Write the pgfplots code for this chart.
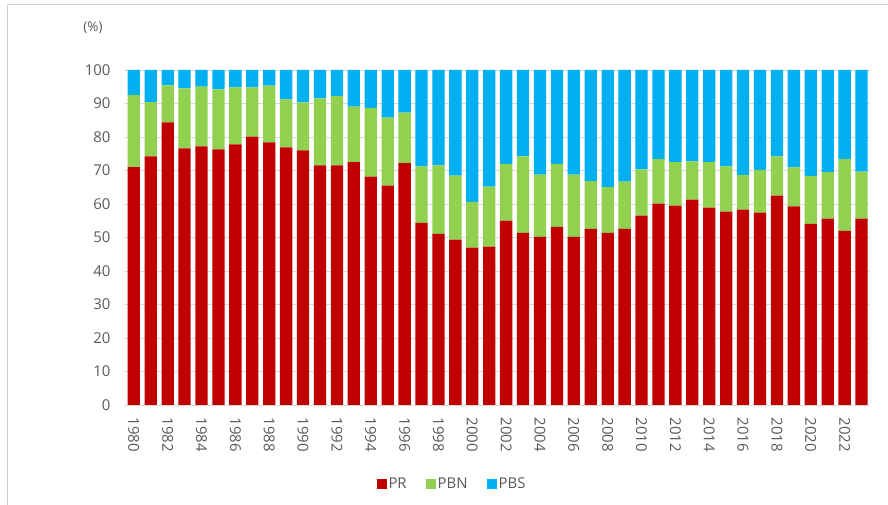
\documentclass[border=0pt]{standalone}
\usepackage{pgfplots}
\pgfplotsset{compat=1.18}
\usepackage{pgfplotstable}
\usepackage{fontspec}
\setmainfont{Open Sans}
\definecolor{cPR}{HTML}{C00000}
\definecolor{cPBN}{HTML}{92D050}
\definecolor{cPBS}{HTML}{00B0F0}
\definecolor{txt}{HTML}{595959}
\definecolor{gridc}{HTML}{D9D9D9}
\definecolor{framec}{HTML}{D0D0D0}
\pgfplotstableread{
year PR PBN PBS
1980 71.0 21.5 7.5
1981 74.2 16.2 9.6
1982 84.4 11.0 4.6
1983 76.6 17.9 5.5
1984 77.2 17.8 5.0
1985 76.3 17.9 5.8
1986 77.8 17.0 5.2
1987 80.1 14.7 5.2
1988 78.4 16.9 4.7
1989 76.9 14.3 8.8
1990 76.0 14.3 9.7
1991 71.5 20.0 8.5
1992 71.5 20.7 7.8
1993 72.5 16.6 10.9
1994 68.2 20.5 11.3
1995 65.5 20.3 14.2
1996 72.2 15.1 12.7
1997 54.4 16.8 28.8
1998 51.1 20.4 28.5
1999 49.4 19.1 31.5
2000 47.0 13.6 39.4
2001 47.3 17.9 34.8
2002 55.0 17.0 28.0
2003 51.4 22.8 25.8
2004 50.2 18.6 31.2
2005 53.2 18.8 28.0
2006 50.2 18.6 31.2
2007 52.6 14.2 33.2
2008 51.4 13.6 35.0
2009 52.6 14.1 33.3
2010 56.5 13.8 29.7
2011 60.1 13.3 26.6
2012 59.5 13.0 27.5
2013 61.3 11.4 27.3
2014 58.9 13.6 27.5
2015 57.7 13.5 28.8
2016 58.3 10.4 31.3
2017 57.4 12.8 29.8
2018 62.5 11.7 25.8
2019 59.3 11.6 29.1
2020 54.1 14.3 31.6
2021 55.6 13.9 30.5
2022 52.0 21.4 26.6
2023 55.6 14.1 30.3
}\datatable
\begin{document}
\begin{tikzpicture}
\path[use as bounding box] (0,0) rectangle (888bp,505bp);
\draw[framec, line width=0.8pt] (7bp,0bp) -- (7bp,501bp) -- (888bp,501bp);
\node[text=txt, font=\fontsize{13.5}{15}\selectfont] at (93bp,477bp) {(\%)};
\begin{axis}[
  at={(124bp,100bp)}, anchor=south west,
  scale only axis, width=746bp, height=335bp,
  ybar stacked, bar width=12.3bp,
  xmin=1979.42, xmax=2023.5,
  ymin=0, ymax=100,
  ytick={0,10,...,100},
  xtick={1980,1982,...,2022},
  xticklabel={\pgfmathprintnumber[1000 sep={}]{\tick}},
  xticklabel shift=9bp,
  xticklabel style={rotate=-90, anchor=west, text=txt, font=\fontsize{15}{16}\selectfont},
  yticklabel style={text=txt, font=\fontsize{15}{16}\selectfont, xshift=-10bp},
  /pgf/number format/assume math mode=true,
  major tick length=0pt,
  ymajorgrids, grid style={gridc, line width=0.8pt},
  axis line style={draw=none},
  legend style={at={(0.4397,-0.236)}, anchor=center, draw=none, legend columns=3,
     font=\fontsize{15}{16}\selectfont, text=txt,
     /tikz/every even column/.append style={column sep=17bp}},
  legend image code/.code={\fill[#1] (0bp,-5bp) rectangle (10bp,5bp);},
]
\addplot[fill=cPR, draw=none] table[x=year,y=PR]{\datatable};
\addplot[fill=cPBN, draw=none] table[x=year,y=PBN]{\datatable};
\addplot[fill=cPBS, draw=none] table[x=year,y=PBS]{\datatable};
\legend{PR,PBN,PBS}
\end{axis}
\end{tikzpicture}
\end{document}
